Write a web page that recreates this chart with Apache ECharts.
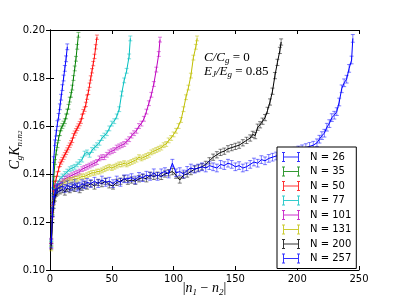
<!DOCTYPE html>
<html><head><meta charset="utf-8">
<script src="https://cdn.jsdelivr.net/npm/echarts/dist/echarts.min.js"></script>
<style>html,body{margin:0;padding:0;background:#fff}#c{width:399px;height:299px}</style>
</head><body><div id="c"></div>
<script>
const seriesNames = ['N = 26','N = 35','N = 50','N = 77','N = 101','N = 131','N = 200','N = 257'];
const seriesColors = ['#0000ff','#008000','#ff0000','#00bfbf','#bf00bf','#bfbf00','#000000','#0000ff'];
const errHalf = [0.0012,0.0010,0.0009,0.0010,0.0010,0.0010,0.0013,0.0016];
const xTicks = [0,50,100,150,200,250];
const yTicks = [0.10,0.12,0.14,0.16,0.18,0.20];

const n26 = [[1,0.112],[2,0.133],[3,0.146],[4,0.153],[5,0.157],[6,0.161],[7,0.164],[8,0.168],[9,0.172],[10,0.176],[11,0.180],[12,0.184],[13,0.188],[14,0.193]];
const n35 = [[1,0.111],[2,0.127],[3,0.138],[4,0.145],[5,0.149],[6,0.152],[7,0.155],[8,0.157],[9,0.159],[10,0.160],[11,0.161],[12,0.162],[13,0.164],[14,0.166],[15,0.168],[16,0.171],[17,0.173],[18,0.176],[19,0.180],[20,0.184],[21,0.188],[22,0.193],[23,0.198]];
const n50 = [[1,0.112],[2,0.126],[3,0.132],[4,0.136],[5,0.138],[6,0.140],[7,0.142],[8,0.144],[9,0.145],[10,0.146],[11,0.147],[12,0.148],[13,0.149],[14,0.150],[15,0.151],[16,0.152],[17,0.153],[18,0.154],[19,0.156],[20,0.157],[21,0.158],[22,0.159],[23,0.160],[24,0.161],[25,0.162],[26,0.164],[27,0.166],[28,0.167],[29,0.169],[30,0.172],[31,0.174],[32,0.177],[33,0.180],[34,0.183],[35,0.186],[36,0.189],[37,0.193],[38,0.197]];
const n77 = [[1,0.111],[2,0.124],[3,0.130],[4,0.133],[5,0.135],[6,0.136],[8,0.138],[10,0.139],[12,0.140],[14,0.141],[16,0.142],[18,0.1425],[20,0.143],[22,0.144],[24,0.145],[26,0.146],[28,0.1485],[30,0.149],[32,0.148],[34,0.150],[36,0.151],[38,0.152],[40,0.153],[42,0.155],[44,0.156],[46,0.157],[48,0.159],[50,0.161],[52,0.162],[54,0.164],[56,0.167],[58,0.1735],[60,0.179],[62,0.183],[64,0.189],[65,0.1965]];
const n101 = [[1,0.110],[2,0.123],[3,0.129],[4,0.132],[5,0.134],[6,0.135],[8,0.136],[10,0.137],[12,0.138],[14,0.1385],[16,0.139],[18,0.1395],[20,0.140],[22,0.1405],[24,0.141],[26,0.142],[28,0.1425],[30,0.143],[32,0.1435],[34,0.144],[36,0.1445],[38,0.145],[40,0.1465],[42,0.147],[44,0.147],[46,0.148],[48,0.149],[50,0.1495],[52,0.150],[54,0.151],[56,0.1515],[58,0.152],[60,0.1525],[62,0.1535],[64,0.1545],[66,0.156],[68,0.157],[70,0.158],[72,0.160],[74,0.161],[76,0.163],[78,0.166],[80,0.1695],[82,0.173],[84,0.1775],[86,0.1835],[88,0.190],[89,0.196]];
const n131 = [[1,0.109],[2,0.122],[3,0.128],[4,0.131],[5,0.133],[6,0.134],[8,0.135],[10,0.136],[12,0.1365],[14,0.137],[16,0.1375],[18,0.1375],[20,0.138],[22,0.138],[24,0.1385],[26,0.139],[28,0.139],[30,0.1395],[32,0.140],[34,0.1405],[36,0.1405],[38,0.141],[40,0.141],[42,0.1415],[44,0.142],[46,0.1425],[48,0.143],[50,0.1425],[52,0.143],[54,0.1435],[56,0.144],[58,0.144],[60,0.1445],[62,0.144],[64,0.1445],[66,0.145],[68,0.1455],[70,0.146],[72,0.147],[74,0.1465],[76,0.147],[78,0.1475],[80,0.148],[82,0.149],[84,0.1495],[86,0.150],[88,0.1505],[90,0.151],[92,0.152],[94,0.1525],[96,0.154],[98,0.155],[100,0.1565],[102,0.158],[104,0.160],[106,0.1625],[108,0.167],[110,0.172],[112,0.176],[114,0.181],[116,0.1885],[118,0.193],[119,0.1965]];
const n200 = [[1,0.110],[2,0.121],[3,0.127],[4,0.130],[5,0.132],[6,0.1325],[8,0.133],[10,0.1335],[12,0.1325],[14,0.134],[16,0.1335],[18,0.1345],[20,0.134],[22,0.135],[24,0.1335],[26,0.1345],[28,0.1355],[30,0.135],[33,0.136],[36,0.135],[39,0.1365],[42,0.136],[45,0.137],[48,0.1355],[51,0.135],[54,0.1365],[57,0.137],[60,0.138],[63,0.137],[66,0.1375],[69,0.137],[72,0.138],[75,0.1385],[78,0.138],[81,0.1395],[84,0.139],[87,0.1395],[90,0.139],[93,0.140],[96,0.1405],[99,0.141],[102,0.1395],[105,0.1375],[108,0.1395],[111,0.140],[114,0.141],[117,0.142],[120,0.1425],[123,0.143],[126,0.144],[129,0.1455],[132,0.147],[135,0.148],[138,0.149],[141,0.1495],[144,0.1505],[147,0.151],[150,0.1515],[153,0.152],[156,0.153],[159,0.154],[162,0.155],[164,0.1565],[166,0.156],[168,0.1595],[170,0.1605],[172,0.162],[174,0.1635],[176,0.1665],[178,0.170],[180,0.1745],[182,0.181],[184,0.1865],[186,0.1915],[187,0.195]];
const n257 = [[1,0.111],[2,0.124],[3,0.129],[4,0.132],[5,0.1335],[6,0.134],[8,0.1345],[10,0.135],[12,0.134],[14,0.1355],[16,0.1345],[18,0.135],[20,0.136],[22,0.1345],[24,0.135],[26,0.136],[28,0.1355],[30,0.1365],[33,0.136],[36,0.137],[39,0.136],[42,0.1375],[45,0.1365],[48,0.137],[51,0.136],[54,0.1375],[57,0.1365],[60,0.138],[63,0.138],[66,0.1385],[69,0.1375],[72,0.139],[75,0.1385],[78,0.1395],[81,0.139],[84,0.1405],[87,0.139],[90,0.1405],[93,0.141],[96,0.140],[99,0.1445],[102,0.1405],[105,0.141],[108,0.140],[111,0.1415],[114,0.1425],[117,0.142],[120,0.1425],[123,0.143],[126,0.1425],[129,0.1435],[132,0.143],[135,0.1425],[138,0.144],[141,0.1435],[144,0.1445],[147,0.144],[150,0.143],[153,0.1435],[156,0.1425],[159,0.143],[162,0.144],[165,0.145],[168,0.1445],[171,0.146],[174,0.1455],[177,0.1465],[180,0.147],[183,0.1475],[186,0.148],[189,0.1485],[192,0.149],[195,0.149],[198,0.1495],[201,0.150],[204,0.1505],[207,0.151],[210,0.1515],[213,0.152],[216,0.153],[218,0.1545],[220,0.156],[222,0.157],[224,0.1595],[226,0.161],[228,0.1635],[230,0.1645],[232,0.166],[234,0.170],[236,0.1755],[238,0.178],[240,0.1795],[242,0.184],[244,0.1875],[245,0.1965]];

const allData = [n26,n35,n50,n77,n101,n131,n200,n257];

const chart = echarts.init(document.getElementById('c'), null, {renderer:'canvas'});

function renderErr(params, api) {
  const x = api.value(0), y = api.value(1), e = api.value(2);
  const top = api.coord([x, y + e]);
  const bot = api.coord([x, y - e]);
  const cw = 2;
  const style = {stroke: api.visual('color'), lineWidth: 1, opacity: 0.5};
  return {type:'group', children:[
    {type:'line', shape:{x1:top[0],y1:top[1],x2:bot[0],y2:bot[1]}, style:style},
    {type:'line', shape:{x1:top[0]-cw,y1:top[1],x2:top[0]+cw,y2:top[1]}, style:style},
    {type:'line', shape:{x1:bot[0]-cw,y1:bot[1],x2:bot[0]+cw,y2:bot[1]}, style:style}
  ]};
}

const series = [];
allData.forEach((d, i) => {
  series.push({
    name: seriesNames[i], type:'custom', renderItem: renderErr,
    itemStyle:{color: seriesColors[i]},
    data: d.map(p => [p[0], p[1], errHalf[i]]),
    encode:{x:0, y:1}, silent:true, z: 2 + i*0.01
  });
  series.push({
    name: seriesNames[i], type:'line', data: d, showSymbol:false, symbol:'none',
    lineStyle:{color: seriesColors[i], width:1}, itemStyle:{color: seriesColors[i]},
    silent:true, z: 2 + i*0.01 + 0.005
  });
});

const hIcon = 'path://M1,0h1v10h-1z M0,0h3v1h-3z M0,9h3v1h-3z M16,0h1v10h-1z M15,0h3v1h-3z M15,9h3v1h-3z M1,4.5h16v1h-16z';

const serif = 'Liberation Serif';
const mathRich = {
  i:{fontFamily:serif, fontStyle:'italic', fontSize:13, lineHeight:16, color:'#000'},
  r:{fontFamily:serif, fontSize:13, lineHeight:16, color:'#000'},
  s:{fontFamily:serif, fontStyle:'italic', fontSize:9, lineHeight:6, verticalAlign:'bottom', color:'#000'},
  ss:{fontFamily:serif, fontStyle:'italic', fontSize:7, lineHeight:3, verticalAlign:'bottom', color:'#000'}
};
const axRich = {
  i:{fontFamily:serif, fontStyle:'italic', fontSize:14, lineHeight:17, color:'#000'},
  r:{fontFamily:serif, fontSize:14, lineHeight:17, color:'#000'},
  s:{fontFamily:serif, fontStyle:'italic', fontSize:9, lineHeight:6, verticalAlign:'bottom', color:'#000'},
  ss:{fontFamily:serif, fontStyle:'italic', fontSize:7, lineHeight:3, verticalAlign:'bottom', color:'#000'}
};

const axisCommon = {
  axisLine:{show:true, lineStyle:{color:'#000', width:1}},
  axisTick:{show:true, inside:true, length:4, lineStyle:{color:'#000'}},
  splitLine:{show:false}
};

chart.setOption({
  animation:false,
  backgroundColor:'#fff',
  grid:{left:50, right:40, top:30, bottom:29, outerBoundsMode:'none', containLabel:false},
  xAxis:[
    Object.assign({type:'value', min:xTicks[0], max:xTicks[xTicks.length-1], interval:50, position:'bottom',
      axisLabel:{fontFamily:'DejaVu Sans', fontSize:10, color:'#000', margin:4},
      name:'{r||}{i|n}{s|1}{r| − }{i|n}{s|2}{r||}', nameLocation:'middle', nameGap:10, nameMoveOverlap:false,
      nameTextStyle:{rich:axRich}}, axisCommon),
    Object.assign({type:'value', min:xTicks[0], max:xTicks[xTicks.length-1], interval:50, position:'top',
      axisLabel:{show:false}}, axisCommon)
  ],
  yAxis:[
    Object.assign({type:'value', min:yTicks[0], max:yTicks[yTicks.length-1], interval:0.02, position:'left',
      axisLabel:{fontFamily:'DejaVu Sans', fontSize:10, color:'#000', margin:5, formatter:v=>v.toFixed(2)},
      name:'{i|C}{s|g}{i|K}{s|n}{ss|1}{s|n}{ss|2}', nameLocation:'middle', nameGap:26, nameRotate:90, nameMoveOverlap:false,
      nameTextStyle:{rich:axRich}}, axisCommon),
    Object.assign({type:'value', min:yTicks[0], max:yTicks[yTicks.length-1], interval:0.02, position:'right',
      axisLabel:{show:false}}, axisCommon)
  ],
  legend:{
    orient:'vertical', left:277, top:147, padding:[4,5,4,5], itemGap:2.5, itemWidth:18, itemHeight:10,
    backgroundColor:'#fff', borderColor:'#000', borderWidth:1, z:10,
    textStyle:{fontFamily:'DejaVu Sans', fontSize:10, color:'#000', padding:[0,0,0,5], lineHeight:12},
    data: seriesNames.map((n,i)=>({name:n, icon:hIcon, itemStyle:{color:seriesColors[i], opacity:0.8}})),
    selectedMode:false
  },
  graphic:[
    {type:'text', left:204, top:51, z:5, style:{text:'{i|C/C}{s|g}{r| = 0}', rich:mathRich}},
    {type:'text', left:204, top:65, z:5, style:{text:'{i|E}{s|J}{i|/E}{s|g}{r| = 0.85}', rich:mathRich}}
  ],
  series: series
});
</script></body></html>
